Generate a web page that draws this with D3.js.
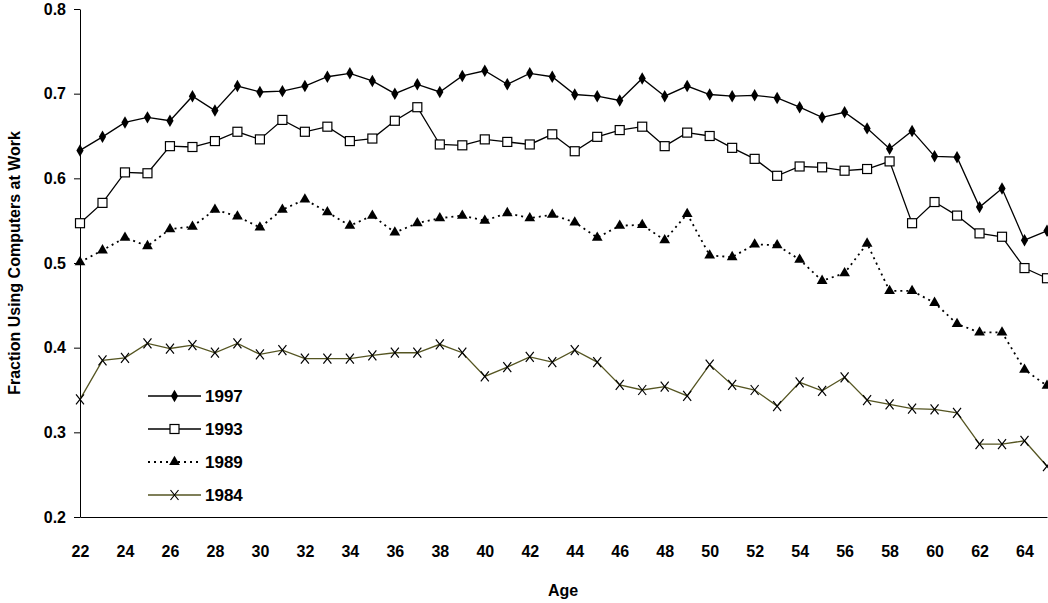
<!DOCTYPE html>
<meta charset="utf-8">
<html>
<head>
<style>
body { margin:0; background:#fff; }
svg text { font-family:"Liberation Sans", Arial, sans-serif; font-weight:bold; }
</style>
<script src="https://cdn.jsdelivr.net/npm/d3@7"></script>
</head>
<body>
<script>
var ages = d3.range(22, 66);
var y1997 = [.633,.649,.666,.672,.668,.697,.680,.709,.702,.703,.709,.720,.724,.715,.700,.711,.702,.721,.727,.711,.724,.720,.699,.697,.692,.718,.697,.709,.699,.697,.698,.695,.684,.672,.678,.659,.635,.656,.626,.625,.566,.588,.527,.538];
var y1993 = [.547,.571,.607,.606,.638,.637,.644,.655,.646,.669,.655,.661,.644,.647,.668,.684,.640,.639,.646,.643,.640,.652,.632,.649,.657,.661,.638,.654,.650,.636,.623,.603,.614,.613,.609,.611,.620,.547,.572,.556,.535,.531,.494,.482];
var y1989 = [.501,.515,.530,.520,.540,.543,.563,.555,.542,.563,.575,.560,.544,.556,.536,.547,.553,.556,.550,.559,.553,.557,.548,.530,.544,.545,.527,.558,.509,.507,.522,.521,.504,.479,.488,.523,.467,.467,.453,.428,.418,.418,.374,.355];
var y1984 = [.339,.385,.388,.405,.399,.403,.394,.405,.392,.397,.387,.387,.387,.391,.394,.394,.404,.394,.366,.377,.389,.383,.397,.383,.356,.350,.354,.343,.380,.356,.350,.331,.359,.349,.365,.338,.333,.328,.327,.323,.286,.286,.290,.260];
var xTicks = d3.range(22, 65, 2);
var yTicks = [0.2, 0.3, 0.4, 0.5, 0.6, 0.7, 0.8];

var series = [
  {name:"1997", vals:y1997, sym:"diamond", color:"#000", dash:null},
  {name:"1993", vals:y1993, sym:"square", color:"#000", dash:null},
  {name:"1989", vals:y1989, sym:"triangle", color:"#000", dash:"2,4"},
  {name:"1984", vals:y1984, sym:"cross", color:"#555522", dash:null}
];

var width = 1048, height = 603;
var svg = d3.select("body").append("svg").attr("width", width).attr("height", height);

var x = d3.scaleLinear().domain([22, 65]).range([80, 1047]);
var y = d3.scaleLinear().domain([0.2, 0.8]).range([517, 9]);

svg.append("g").attr("transform", "translate(80,0)")
  .call(d3.axisLeft(y).tickValues(yTicks).tickFormat(d3.format(".1f")).tickSize(6).tickSizeOuter(0).tickPadding(8))
  .call(function(g){ g.selectAll("text").attr("font-size", 16).attr("fill", "#000"); g.select(".domain").attr("stroke", "#000"); });

svg.append("g").attr("transform", "translate(0,517)")
  .call(d3.axisBottom(x).tickValues(xTicks).tickSize(0).tickSizeOuter(0).tickPadding(29))
  .call(function(g){ g.selectAll("text").attr("font-size", 16).attr("fill", "#000"); g.select(".domain").attr("stroke", "#000"); });

svg.append("text").attr("x", 563).attr("y", 596).attr("text-anchor", "middle").attr("font-size", 16).text("Age");
svg.append("text").attr("transform", "translate(20,263) rotate(-90)").attr("text-anchor", "middle")
  .attr("font-size", 16).text("Fraction Using Computers at Work");

var line = d3.line().x(function(d, i){ return x(ages[i]); }).y(function(d){ return y(d); });

function marker(g, s, cx, cy) {
  if (s.sym === "diamond") {
    g.append("path").attr("d", d3.symbol().type(d3.symbolDiamond).size(45)()).attr("transform", "translate(" + cx + "," + cy + ")").attr("fill", "#000");
  } else if (s.sym === "square") {
    g.append("rect").attr("x", cx - 4.5).attr("y", cy - 4.5).attr("width", 9).attr("height", 9).attr("fill", "#fff").attr("stroke", "#000").attr("stroke-width", 1.2);
  } else if (s.sym === "triangle") {
    g.append("path").attr("d", d3.symbol().type(d3.symbolTriangle).size(50)()).attr("transform", "translate(" + cx + "," + cy + ")").attr("fill", "#000");
  } else {
    g.append("path").attr("d", "M" + (cx - 4) + "," + (cy - 5) + "L" + (cx + 4) + "," + (cy + 5) + "M" + (cx + 4) + "," + (cy - 5) + "L" + (cx - 4) + "," + (cy + 5)).attr("stroke", "#000").attr("stroke-width", 1.2);
  }
}

series.forEach(function(s) {
  var g = svg.append("g");
  g.append("path").datum(s.vals).attr("d", line).attr("fill", "none").attr("stroke", s.color)
    .attr("stroke-width", s.dash ? 1.8 : 1.3).attr("stroke-dasharray", s.dash);
  s.vals.forEach(function(v, i){ marker(g, s, x(ages[i]), y(v)); });
});

var legY = [396, 429, 462, 495];
series.forEach(function(s, i) {
  var g = svg.append("g");
  g.append("line").attr("x1", 148).attr("x2", 201).attr("y1", legY[i]).attr("y2", legY[i])
    .attr("stroke", s.color).attr("stroke-width", s.dash ? 1.8 : 1.3).attr("stroke-dasharray", s.dash);
  marker(g, s, 174.5, legY[i]);
  g.append("text").attr("x", 205).attr("y", legY[i] + 6).attr("font-size", 17).text(s.name);
});
</script>
</body>
</html>
